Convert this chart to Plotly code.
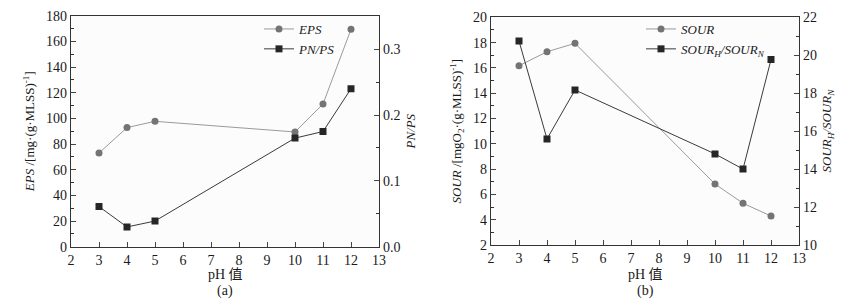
import plotly.graph_objects as go

ph = [3, 4, 5, 10, 11, 12]
eps = [73, 92.8, 97.7, 89.4, 111.2, 169.4]
pn_ps = [0.061, 0.030, 0.039, 0.165, 0.175, 0.240]
sour = [16.17, 17.28, 17.94, 6.82, 5.30, 4.29]
sour_ratio = [20.75, 15.59, 18.17, 14.80, 14.00, 19.77]

W, H = 842, 301
FONT = "Liberation Serif, Times New Roman, Noto Sans CJK SC, serif"
TXT = "#1a1a1a"

def px(x):
    return x / W

def py(y):
    return 1 - y / H

fig = go.Figure()

fig.add_trace(go.Scatter(x=ph, y=eps, mode="lines+markers", name="<i>EPS</i>",
                         line=dict(color="#9a9a9a", width=1),
                         marker=dict(symbol="circle", size=7, color="#747474"),
                         xaxis="x", yaxis="y", legend="legend"))
fig.add_trace(go.Scatter(x=ph, y=pn_ps, mode="lines+markers", name="<i>PN/PS</i>",
                         line=dict(color="#3a3a3a", width=1),
                         marker=dict(symbol="square", size=7, color="#262626"),
                         xaxis="x", yaxis="y2", legend="legend"))
fig.add_trace(go.Scatter(x=ph, y=sour, mode="lines+markers", name="<i>SOUR</i>",
                         line=dict(color="#9a9a9a", width=1),
                         marker=dict(symbol="circle", size=7, color="#747474"),
                         xaxis="x2", yaxis="y3", legend="legend2"))
fig.add_trace(go.Scatter(x=ph, y=sour_ratio, mode="lines+markers",
                         name="<i>SOUR</i><sub><i>H</i></sub><i>/SOUR</i><sub><i>N</i></sub>",
                         line=dict(color="#3a3a3a", width=1),
                         marker=dict(symbol="square", size=7, color="#262626"),
                         xaxis="x2", yaxis="y4", legend="legend2"))

common_x = dict(range=[2, 13], dtick=1, tick0=2, ticks="inside", ticklen=5,
                showline=True, linecolor="#333", linewidth=1.2, mirror=True,
                showgrid=False, zeroline=False, automargin=False,
                tickfont=dict(family=FONT, size=14, color=TXT))
common_y = dict(ticks="inside", ticklen=5, showline=True, linecolor="#333", linewidth=1.2,
                showgrid=False, zeroline=False, automargin=False,
                tickfont=dict(family=FONT, size=14, color=TXT))

ydomL = [py(246.7), py(15.7)]
ydomR = [py(245), py(17.3)]

fig.update_layout(
    width=W, height=H,
    margin=dict(l=0, r=0, t=0, b=0, autoexpand=False),
    paper_bgcolor="white", plot_bgcolor="#fcfcfc",
    font=dict(family=FONT, size=14, color=TXT),
    showlegend=True,
    xaxis=dict(common_x, domain=[px(71), px(379)], anchor="y"),
    yaxis=dict(common_y, domain=ydomL, anchor="x", range=[0, 180], dtick=20,
               minor=dict(dtick=10, ticks="inside", ticklen=3, tickcolor="#333"),
               title=dict(text="<i>EPS</i> /[mg·(g·MLSS)<sup>-1</sup>]", standoff=8,
                          font=dict(family=FONT, size=13, color=TXT))),
    yaxis2=dict(common_y, overlaying="y", anchor="x", side="right", range=[0, 0.351],
                dtick=0.1, tickformat=".1f",
                minor=dict(dtick=0.05, ticks="inside", ticklen=3, tickcolor="#333"),
                title=dict(text="<i>PN/PS</i>", standoff=6,
                           font=dict(family=FONT, size=13, color=TXT))),
    xaxis2=dict(common_x, domain=[px(491), px(799)], anchor="y3"),
    yaxis3=dict(common_y, domain=ydomR, anchor="x2", range=[2, 20], dtick=2,
                minor=dict(dtick=1, ticks="inside", ticklen=3, tickcolor="#333"),
                title=dict(text="<i>SOUR</i> /[mgO<sub>2</sub>·(g·MLSS)<sup>-1</sup>]", standoff=8,
                           font=dict(family=FONT, size=13, color=TXT))),
    yaxis4=dict(common_y, overlaying="y3", anchor="x2", side="right", range=[10, 22], dtick=2,
                minor=dict(dtick=1, ticks="inside", ticklen=3, tickcolor="#333"),
                title=dict(text="<i>SOUR</i><sub><i>H</i></sub><i>/SOUR</i><sub><i>N</i></sub>", standoff=6,
                           font=dict(family=FONT, size=13, color=TXT))),
    legend=dict(x=px(259), y=py(14), xanchor="left", yanchor="top",
                bgcolor="rgba(0,0,0,0)", tracegroupgap=0, itemwidth=30,
                font=dict(family=FONT, size=13, color=TXT)),
    legend2=dict(x=px(641), y=py(14), xanchor="left", yanchor="top",
                 bgcolor="rgba(0,0,0,0)", tracegroupgap=0, itemwidth=30,
                 font=dict(family=FONT, size=13, color=TXT)),
)

for cx, lab in [(225, "(a)"), (645, "(b)")]:
    fig.add_annotation(x=px(cx), y=py(274), xref="paper", yref="paper", text="pH 值",
                       xanchor="center", yanchor="middle",
                       showarrow=False, font=dict(family=FONT, size=14, color=TXT))
    fig.add_annotation(x=px(cx), y=py(291), xref="paper", yref="paper", text=lab,
                       xanchor="center", yanchor="middle",
                       showarrow=False, font=dict(family=FONT, size=14, color=TXT))

fig.write_html("out.html", config={"displayModeBar": False},
               post_script="document.body.style.margin='0';document.body.style.padding='0';")
